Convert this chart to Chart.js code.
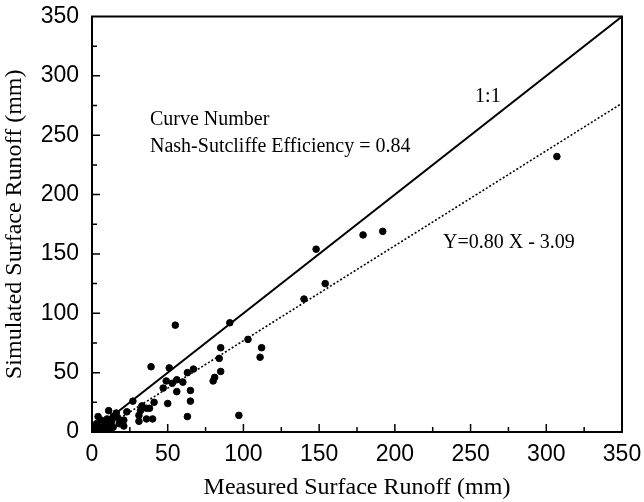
<!DOCTYPE html>
<html>
<head>
<meta charset="utf-8">
<script src="https://cdn.jsdelivr.net/npm/chart.js@4/dist/chart.umd.min.js"></script>
<style>
  html, body { margin: 0; padding: 0; background: #fff; }
  #wrap { width: 644px; height: 502px; position: relative; }
</style>
</head>
<body>
<div id="wrap"><canvas id="runoff"></canvas></div>
<script>
/* Curve Number: simulated vs measured surface runoff (mm) */

const measured = [
  307, 148, 179, 192, 154, 140,
  55, 91, 103, 112, 111, 85, 84, 85, 81, 80, 97, 67, 63, 60, 56, 53, 51, 49, 47, 39,
  56, 65, 65, 63, 50, 41, 38, 36, 33, 32, 36, 40, 31, 31, 27, 23, 21, 16, 11, 4, 13,
  18, 9, 5, 2, 0, 14, 6, 3, 11, 14, 7, 4, 21, 8, 12, 1, 10, 17
];
const simulated = [
  232, 154, 166, 169, 125, 112,
  90, 92, 78, 71, 63, 71, 62, 51, 46, 43, 14, 53, 50, 42, 44, 41, 54, 43, 37, 55,
  34, 35, 26, 13, 24, 25, 20, 20, 22, 18, 11, 11, 9, 14, 26, 17, 10, 16, 18, 13, 9,
  7, 6, 4, 1, 0, 13, 10, 7, 7, 4, 1, 1, 5, 3, 2, 3, 11, 12
];

const oneToOneX = [0, 350];
const oneToOneY = [0, 350];
const fitX = [5, 350];
const fitY = [0.91, 276.91];

const xTicks = [0, 50, 100, 150, 200, 250, 300, 350];
const yTicks = [0, 50, 100, 150, 200, 250, 300, 350];

const SANS = "'Liberation Sans', Arial, sans-serif";
const SERIF = "'Liberation Serif', 'Times New Roman', serif";

const pairs = (xs, ys) => xs.map((x, i) => ({ x: x, y: ys[i] }));

// box around the plot, inward ticks, text notes
const decor = {
  id: "decor",
  afterDraw(chart) {
    const { ctx, chartArea: a, scales: { x, y } } = chart;
    ctx.save();
    ctx.strokeStyle = "#000";
    ctx.lineWidth = 2;
    ctx.strokeRect(a.left, a.top, a.right - a.left, a.bottom - a.top);

    ctx.lineWidth = 1.5;
    ctx.beginPath();
    for (let v = 25; v < 350; v += 25) {
      const len = v % 50 === 0 ? 8 : 5;
      const px = x.getPixelForValue(v);
      ctx.moveTo(px, a.bottom); ctx.lineTo(px, a.bottom - len);
      const py = y.getPixelForValue(v);
      ctx.moveTo(a.left, py); ctx.lineTo(a.left + len, py);
    }
    ctx.stroke();

    ctx.fillStyle = "#000";
    ctx.font = "20px " + SERIF;
    ctx.textBaseline = "alphabetic";
    ctx.textAlign = "left";
    ctx.fillText("1:1", x.getPixelForValue(253), y.getPixelForValue(278));
    ctx.fillText("Curve Number", x.getPixelForValue(38.3), y.getPixelForValue(258.6));
    ctx.fillText("Nash-Sutcliffe Efficiency = 0.84", x.getPixelForValue(38.3), y.getPixelForValue(235.9));
    ctx.fillText("Y=0.80 X - 3.09", x.getPixelForValue(231.8), y.getPixelForValue(155));
    ctx.restore();
  }
};

new Chart(document.getElementById("runoff"), {
  type: "scatter",
  data: {
    datasets: [
      {
        label: "1:1",
        type: "line",
        data: pairs(oneToOneX, oneToOneY),
        borderColor: "#000", borderWidth: 2, pointRadius: 0, fill: false
      },
      {
        label: "fit",
        type: "line",
        data: pairs(fitX, fitY),
        borderColor: "#000", borderWidth: 1.6, borderDash: [2, 2], pointRadius: 0, fill: false
      },
      {
        label: "events",
        data: pairs(measured, simulated),
        backgroundColor: "#000", borderColor: "#000", pointRadius: 3.3, pointHoverRadius: 3.3
      }
    ]
  },
  options: {
    responsive: true,
    maintainAspectRatio: false,
    animation: false,
    events: [],
    layout: { padding: 0 },
    plugins: { legend: { display: false }, tooltip: { enabled: false } },
    scales: {
      x: {
        type: "linear", min: 0, max: 350,
        afterBuildTicks: (s) => { s.ticks = xTicks.map(v => ({ value: v })); },
        afterFit: (s) => { s.height = 70; s.paddingLeft = 0; s.paddingRight = 22; },
        grid: { display: false, drawTicks: false },
        border: { display: true, color: "#000", width: 2 },
        ticks: { color: "#000", padding: 9, font: { family: SANS, size: 23 }, maxRotation: 0 },
        title: {
          display: true, text: "Measured Surface Runoff (mm)", color: "#000",
          font: { family: SERIF, size: 24 }, padding: { top: 2, bottom: 0 }
        }
      },
      y: {
        type: "linear", min: 0, max: 350,
        afterBuildTicks: (s) => { s.ticks = yTicks.map(v => ({ value: v })); },
        afterFit: (s) => { s.width = 92; s.paddingTop = 16.5; s.paddingBottom = 0; },
        grid: { display: false, drawTicks: false },
        border: { display: true, color: "#000", width: 2 },
        ticks: { color: "#000", padding: 13, font: { family: SANS, size: 23 } },
        title: {
          display: true, text: "Simulated Surface Runoff (mm)", color: "#000",
          font: { family: SERIF, size: 24 }, padding: { top: 0, bottom: 2 }
        }
      }
    }
  },
  plugins: [decor]
});
</script>
</body>
</html>
